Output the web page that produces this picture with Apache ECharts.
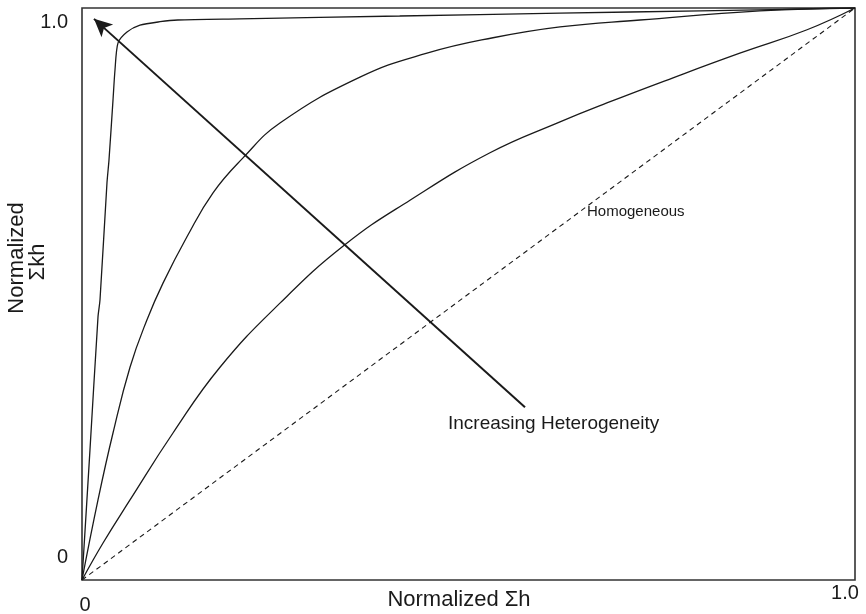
<!DOCTYPE html>
<html>
<head>
<meta charset="utf-8">
<script src="https://cdn.jsdelivr.net/npm/echarts@6/dist/echarts.min.js"></script>
<style>
  html, body { margin: 0; padding: 0; background: #fff; }
  #chart { width: 866px; height: 614px; }
</style>
</head>
<body>
<div id="chart"></div>
<script>
// Normalized cumulative flow capacity (Σkh) vs normalized cumulative thickness (Σh)
const curveStrong = [
  [0, 0], [0.0103, 0.227], [0.0207, 0.46], [0.0233, 0.49], [0.0323, 0.694],
  [0.0349, 0.734], [0.0401, 0.839], [0.0427, 0.892], [0.0466, 0.939],
  [0.0582, 0.958], [0.075, 0.970], [0.101, 0.976], [0.124, 0.979],
  [0.204, 0.981], [0.411, 0.986], [0.618, 0.991], [0.80, 0.995], [1, 1]
];
const curveMedium = [
  [0, 0], [0.0207, 0.140], [0.0401, 0.257], [0.0621, 0.372], [0.0841, 0.455],
  [0.1048, 0.519], [0.1358, 0.600], [0.1695, 0.677], [0.2083, 0.738],
  [0.2561, 0.799], [0.3596, 0.879], [0.4463, 0.921], [0.5317, 0.948],
  [0.6184, 0.967], [0.7219, 0.979], [0.877, 0.995], [1, 1]
];
const curveMild = [
  [0, 0], [0.0272, 0.0647], [0.0621, 0.140], [0.1177, 0.257], [0.1785, 0.372],
  [0.2561, 0.484], [0.340, 0.586], [0.4243, 0.664], [0.5278, 0.747],
  [0.6184, 0.801], [0.679, 0.834], [0.7646, 0.878], [0.851, 0.921],
  [0.938, 0.962], [1, 1]
];
const homogeneous = [[0, 0], [1, 1]];
const arrowFrom = [0.5731, 0.302];
const arrowTo = [0.0155, 0.981];

const xTickValues = [0, 1];
const xTickLabels = ['0', '1.0'];
const yTickValues = [0, 1];
const yTickLabels = ['0', '1.0'];

const FONT = '"Liberation Sans", Arial, sans-serif';
const INK = '#1a1a1a';

const chart = echarts.init(document.getElementById('chart'));

function curve(data, smoothness) {
  return {
    type: 'line',
    data: data,
    showSymbol: false,
    smooth: smoothness,
    lineStyle: { color: INK, width: 1.3 },
    silent: true,
    animation: false
  };
}

chart.setOption({
  animation: false,
  backgroundColor: '#fff',
  grid: {
    left: 82, top: 8, right: 11, bottom: 34,
    show: true, borderColor: '#333', borderWidth: 1.6
  },
  xAxis: {
    type: 'value', min: 0, max: 1,
    axisLine: { show: false }, axisTick: { show: false },
    splitLine: { show: false }, axisLabel: { show: false }
  },
  yAxis: {
    type: 'value', min: 0, max: 1,
    axisLine: { show: false }, axisTick: { show: false },
    splitLine: { show: false }, axisLabel: { show: false }
  },
  series: [
    curve(curveStrong, 0.25),
    curve(curveMedium, 0.45),
    curve(curveMild, 0.45),
    {
      type: 'line',
      data: homogeneous,
      showSymbol: false,
      lineStyle: { color: INK, width: 1.1, type: [5, 4] },
      silent: true,
      markLine: {
        silent: true,
        animation: false,
        label: { show: false },
        lineStyle: { color: INK, width: 2, type: 'solid' },
        symbolSize: [13, 18],
        data: [[
          { coord: arrowFrom, symbol: 'none' },
          { coord: arrowTo, symbol: 'arrow' }
        ]]
      }
    }
  ]
});

// Tick labels, axis titles and annotations
const graphics = [];
xTickValues.forEach(function (v, i) {
  const p = chart.convertToPixel({ gridIndex: 0 }, [v, 0]);
  graphics.push({
    type: 'text',
    x: p[0] + (i === 0 ? 3 : -10), y: p[1] + (i === 0 ? 25 : 13),
    style: { text: xTickLabels[i], font: '20px ' + FONT, fill: INK, align: 'center', verticalAlign: 'middle' }
  });
});
yTickValues.forEach(function (v, i) {
  const p = chart.convertToPixel({ gridIndex: 0 }, [0, v]);
  graphics.push({
    type: 'text',
    x: p[0] - 14, y: p[1] + (i === 0 ? -23 : 14),
    style: { text: yTickLabels[i], font: '20px ' + FONT, fill: INK, align: 'right', verticalAlign: 'middle' }
  });
});
graphics.push(
  {
    type: 'text', x: 459, y: 600,
    style: { text: 'Normalized Σh', font: '22px ' + FONT, fill: INK, align: 'center', verticalAlign: 'middle' }
  },
  {
    type: 'text', x: 17, y: 258, rotation: Math.PI / 2,
    style: { text: 'Normalized', font: '22px ' + FONT, fill: INK, align: 'center', verticalAlign: 'middle' }
  },
  {
    type: 'text', x: 38, y: 262, rotation: Math.PI / 2,
    style: { text: 'Σkh', font: '22px ' + FONT, fill: INK, align: 'center', verticalAlign: 'middle' }
  },
  {
    type: 'text', x: 587, y: 212,
    style: { text: 'Homogeneous', font: '15px ' + FONT, fill: INK, align: 'left', verticalAlign: 'middle' }
  },
  {
    type: 'text', x: 448, y: 424,
    style: { text: 'Increasing Heterogeneity', font: '19px ' + FONT, fill: INK, align: 'left', verticalAlign: 'middle' }
  }
);
chart.setOption({ graphic: graphics });
</script>
</body>
</html>
